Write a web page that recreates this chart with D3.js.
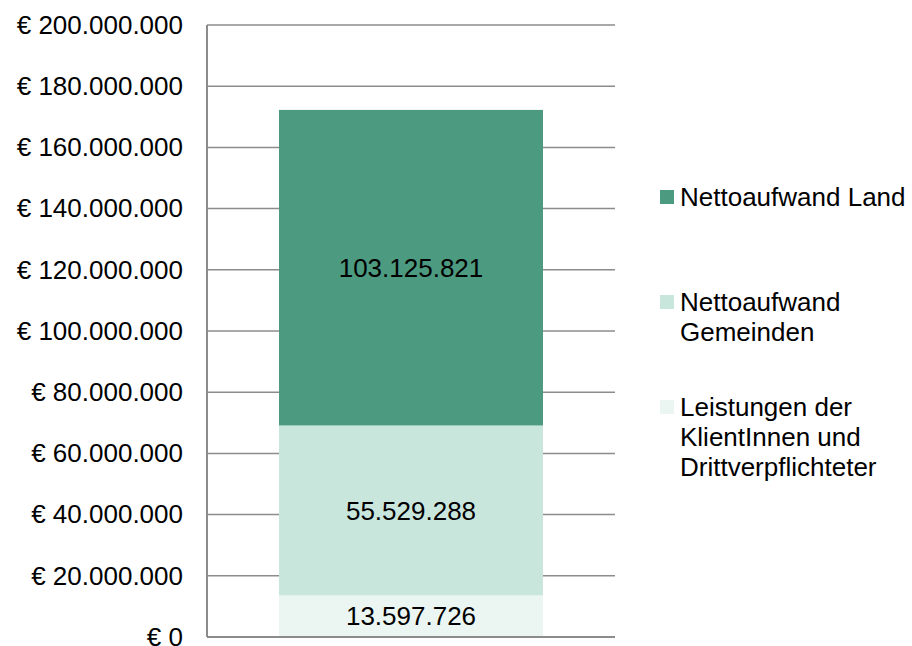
<!DOCTYPE html>
<html>
<head>
<meta charset="utf-8">
<script src="https://cdn.jsdelivr.net/npm/d3@7"></script>
<style>
  body { margin: 0; background: #fff; }
  text { font-family: Arial, "Liberation Sans", sans-serif; font-size: 26px; fill: #000; }
</style>
</head>
<body>
<script>
// data
var categories = ['Gesamt'];
var seriesNames = ['Leistungen der KlientInnen und Drittverpflichteter', 'Nettoaufwand Gemeinden', 'Nettoaufwand Land'];
var seriesValues = [13597726, 55529288, 103125821];
var seriesColors = ['#ebf6f2', '#c9e6dd', '#4c9a7f'];
var legendLines = [
  ['Nettoaufwand Land'],
  ['Nettoaufwand', 'Gemeinden'],
  ['Leistungen der', 'KlientInnen und', 'Drittverpflichteter']
];
var yTicks = [0, 20e6, 40e6, 60e6, 80e6, 100e6, 120e6, 140e6, 160e6, 180e6, 200e6];

var svg = d3.select('body').append('svg')
  .attr('width', 912)
  .attr('height', 646);

var plotL = 207, plotR = 615, plotT = 25, plotB = 637;

var y = d3.scaleLinear().domain([0, 200e6]).range([plotB, plotT]);
var x = d3.scaleBand().domain(categories).range([plotL, plotR])
  .paddingInner(0.353).paddingOuter(0.1765);

var de = function(v) { return d3.format(',')(v).replace(/,/g, '.'); };

// gridlines
svg.append('g').selectAll('line').data(yTicks.slice(1)).enter().append('line')
  .attr('x1', plotL).attr('x2', plotR)
  .attr('y1', d => y(d)).attr('y2', d => y(d))
  .attr('stroke', '#8c8c8c').attr('stroke-width', 1.5);

// stack
var stacked = [];
var acc = 0;
seriesValues.forEach(function(v, i) {
  stacked.push({ y0: acc, y1: acc + v, v: v, color: seriesColors[i] });
  acc += v;
});

var bars = svg.append('g');
bars.selectAll('rect').data(stacked).enter().append('rect')
  .attr('x', x(categories[0]))
  .attr('width', x.bandwidth())
  .attr('y', d => y(d.y1))
  .attr('height', d => y(d.y0) - y(d.y1))
  .attr('fill', d => d.color);

bars.selectAll('text').data(stacked).enter().append('text')
  .attr('x', x(categories[0]) + x.bandwidth() / 2)
  .attr('y', d => y((d.y0 + d.y1) / 2))
  .attr('dy', '0.35em')
  .attr('text-anchor', 'middle')
  .text(d => de(d.v));

// axes
var yAxis = d3.axisLeft(y).tickValues(yTicks).tickSize(0).tickPadding(24)
  .tickFormat(d => '€ ' + de(d));
var ga = svg.append('g').attr('transform', 'translate(' + plotL + ',0)').call(yAxis);
ga.select('.domain').remove();
ga.selectAll('text').style('font-size', '26px').style('font-family', 'Arial, "Liberation Sans", sans-serif');

svg.append('line').attr('x1', plotL).attr('x2', plotL).attr('y1', plotT).attr('y2', plotB)
  .attr('stroke', '#8c8c8c').attr('stroke-width', 2);
svg.append('line').attr('x1', plotL).attr('x2', plotR).attr('y1', plotB).attr('y2', plotB)
  .attr('stroke', '#8c8c8c').attr('stroke-width', 2);

// legend
var legendY = [197, 302, 407];
var legendColors = [seriesColors[2], seriesColors[1], seriesColors[0]];
var lg = svg.append('g').selectAll('g').data(legendLines).enter().append('g')
  .attr('transform', (d, i) => 'translate(660,' + legendY[i] + ')');
lg.append('rect').attr('x', 0).attr('y', -7).attr('width', 14).attr('height', 14)
  .attr('fill', (d, i) => legendColors[i]);
lg.each(function(lines) {
  var t = d3.select(this).append('text').attr('x', 20).attr('y', 0);
  lines.forEach(function(l, j) {
    t.append('tspan').attr('x', 20).attr('dy', j === 0 ? '0.35em' : 30).text(l);
  });
});
</script>
</body>
</html>
